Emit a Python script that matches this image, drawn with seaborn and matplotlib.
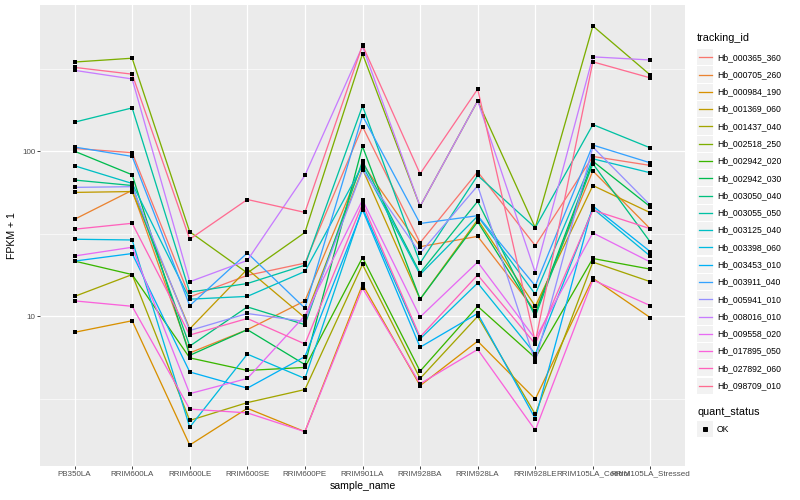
import numpy as np
import pandas as pd
import matplotlib
matplotlib.use("Agg")
import matplotlib.pyplot as plt
import seaborn as sns
from matplotlib.patches import Rectangle
from matplotlib.lines import Line2D
from matplotlib.ticker import FixedLocator, NullFormatter

# ---------------- data (FPKM + 1) ----------------
samples = ["PB350LA", "RRIM600LA", "RRIM600LE", "RRIM600SE", "RRIM600PE",
           "RRIM901LA", "RRIM928BA", "RRIM928LA", "RRIM928LE",
           "RRIM105LA_Control", "RRIM105LA_Stressed"]

tracking_ids = ["Hb_000365_360", "Hb_000705_260", "Hb_000984_190", "Hb_001369_060",
                "Hb_001437_040", "Hb_002518_250", "Hb_002942_020", "Hb_002942_030",
                "Hb_003050_040", "Hb_003055_050", "Hb_003125_040", "Hb_003398_060",
                "Hb_003453_010", "Hb_003911_040", "Hb_005941_010", "Hb_008016_010",
                "Hb_009558_020", "Hb_017895_050", "Hb_027892_060", "Hb_098709_010"]

hb_000365_360 = [104, 98, 13.1, 17.7, 21.0, 141, 27.9, 75, 26.8, 93, 82]
hb_000705_260 = [38.7, 58, 6.0, 8.3, 12.4, 84, 26.4, 30.5, 10.8, 76, 33.8]
hb_000984_190 = [8.0, 9.4, 1.66, 2.77, 2.0, 15.6, 3.8, 7.07, 3.15, 17.0, 9.8]
hb_001369_060 = [56.3, 57, 8.4, 19.3, 9.8, 78, 12.7, 38.5, 11.5, 62, 42.4]
hb_001437_040 = [13.2, 17.9, 2.34, 3.0, 3.6, 20.6, 4.2, 10.0, 2.55, 21.3, 16.2]
hb_002518_250 = [347, 366, 32.5, 18.3, 32.2, 389, 46.3, 202, 34.4, 574, 289]
hb_002942_020 = [21.6, 17.9, 5.6, 4.7, 4.9, 22.7, 4.65, 11.5, 5.6, 22.4, 19.3]
hb_002942_030 = [100, 72, 5.8, 8.3, 5.1, 107, 12.7, 37.4, 10.4, 87, 46]
hb_003050_040 = [66.9, 62, 6.6, 11.4, 8.9, 87, 18.3, 49.7, 10.0, 84, 28.1]
hb_003055_050 = [150, 183, 14.0, 15.8, 20.4, 188, 21.0, 71.3, 34.4, 145, 104.7]
hb_003125_040 = [81.6, 63.8, 12.7, 13.2, 18.7, 82, 17.9, 40.5, 13.6, 90, 74]
hb_003398_060 = [29.3, 29, 2.13, 5.9, 4.2, 45.3, 7.3, 15.9, 5.9, 45, 23.1]
hb_003453_010 = [21.6, 24, 4.6, 3.67, 5.7, 44.2, 6.5, 10.4, 2.4, 46.6, 24.6]
hb_003911_040 = [106, 93, 11.6, 24.2, 11.2, 164, 36.5, 40.7, 15.3, 109, 85]
hb_005941_010 = [60.4, 61, 8.2, 10.4, 9.3, 77, 24.1, 61.8, 5.3, 106, 47]
hb_008016_010 = [309, 274, 16.2, 21.8, 71.4, 432, 46.3, 202, 18.4, 373, 357]
hb_009558_020 = [23.2, 26.2, 3.4, 4.2, 10.1, 50.6, 9.9, 21.3, 7.3, 32, 21.3]
hb_017895_050 = [12.4, 11.5, 2.74, 2.6, 2.0, 14.8, 3.9, 6.3, 2.04, 16.6, 11.6]
hb_027892_060 = [33.7, 36.6, 7.7, 9.7, 6.8, 48, 7.5, 17.8, 6.8, 44, 33.9]
hb_098709_010 = [322, 293, 29.3, 51, 42.6, 439, 73, 238, 7.0, 348, 278]

series_values = [hb_000365_360, hb_000705_260, hb_000984_190, hb_001369_060,
                 hb_001437_040, hb_002518_250, hb_002942_020, hb_002942_030,
                 hb_003050_040, hb_003055_050, hb_003125_040, hb_003398_060,
                 hb_003453_010, hb_003911_040, hb_005941_010, hb_008016_010,
                 hb_009558_020, hb_017895_050, hb_027892_060, hb_098709_010]

hue_colors = ["#F8766D", "#EA8331", "#D89000", "#C09B00", "#A3A500", "#7CAE00",
              "#39B600", "#00BB4E", "#00BF7D", "#00C1A3", "#00BFC4", "#00BAE0",
              "#00B0F6", "#35A2FF", "#9590FF", "#C77CFF", "#E76BF3", "#FA62DB",
              "#FF62BC", "#FF6C91"]

rows = []
for tid, vals in zip(tracking_ids, series_values):
    for s, v in zip(samples, vals):
        rows.append({"tracking_id": tid, "sample_name": s, "fpkm1": v, "quant_status": "OK"})
df = pd.DataFrame(rows)
df["sample_name"] = pd.Categorical(df["sample_name"], categories=samples, ordered=True)

# ---------------- figure ----------------
plt.rcParams["font.family"] = ["Liberation Sans", "DejaVu Sans"]
W, H = 800, 500
fig = plt.figure(figsize=(W / 72, H / 72), dpi=72)
ax = fig.add_axes([40 / W, 34 / H, 645 / W, 461 / H])
ax.set_facecolor("#EBEBEB")
for sp in ax.spines.values():
    sp.set_visible(False)

palette = dict(zip(tracking_ids, hue_colors))
sns.lineplot(data=df, x="sample_name", y="fpkm1", hue="tracking_id",
             hue_order=tracking_ids, palette=palette, estimator=None, sort=False,
             linewidth=1.3, ax=ax, legend=False, zorder=3)
sns.scatterplot(data=df, x="sample_name", y="fpkm1", color="black", marker="s",
                s=11, linewidth=0, ax=ax, legend=False, zorder=4)

ax.set_yscale("log")
lo, hi = np.log10(df["fpkm1"].min()), np.log10(df["fpkm1"].max())
pad = 0.05 * (hi - lo)
ax.set_ylim(10 ** (lo - pad), 10 ** (hi + pad))
ax.set_xlim(-0.6, len(samples) - 1 + 0.6)

ax.yaxis.set_major_locator(FixedLocator([10, 100]))
ax.yaxis.set_minor_locator(FixedLocator([10 ** 0.5, 10 ** 1.5, 10 ** 2.5]))
ax.yaxis.set_minor_formatter(NullFormatter())
ax.set_yticklabels(["10", "100"])
ax.set_xticks(range(len(samples)))
ax.set_xticklabels(samples)

ax.grid(which="major", color="white", linewidth=1.3, zorder=0)
ax.grid(which="minor", axis="y", color="white", linewidth=0.65, zorder=0)
ax.set_axisbelow(True)
ax.tick_params(axis="both", which="major", length=2.75, width=0.9, color="#333333",
               labelsize=8, labelcolor="#4D4D4D", pad=2)
ax.tick_params(axis="y", which="minor", length=0)

ax.set_xlabel("sample_name", fontsize=10.5, color="black", labelpad=3)
ax.set_ylabel("FPKM + 1", fontsize=10.5, color="black", labelpad=5)


# ---------------- legend (ggplot style, drawn in pixel coords) ----------------
def fx(px):
    return px / W


def fy(py):
    return 1 - py / H


fig.text(fx(697), fy(38), "tracking_id", fontsize=10.8, va="center", ha="left")
step = 17.28
for i, (tid, col) in enumerate(zip(tracking_ids, hue_colors)):
    yc = 57.3 + i * step
    fig.add_artist(Rectangle((fx(697), fy(yc + 8.1)), 15.5 / W, 16.2 / H,
                             transform=fig.transFigure, facecolor="#F2F2F2",
                             edgecolor="none"))
    fig.add_artist(Line2D([fx(698.5), fx(711.5)], [fy(yc), fy(yc)],
                          transform=fig.transFigure, color=col, linewidth=1.3))
    fig.text(fx(717), fy(yc), tid, fontsize=8.6, va="center", ha="left")

fig.text(fx(697), fy(412), "quant_status", fontsize=10.8, va="center", ha="left")
fig.add_artist(Rectangle((fx(697), fy(429 + 8.1)), 15.5 / W, 16.2 / H,
                         transform=fig.transFigure, facecolor="#F2F2F2", edgecolor="none"))
fig.add_artist(Line2D([fx(705)], [fy(429)], transform=fig.transFigure, marker="s",
                      markersize=3.2, color="black", linestyle="none"))
fig.text(fx(717), fy(429), "OK", fontsize=8.6, va="center", ha="left")

fig.savefig("out.png", dpi=72, facecolor="white")
